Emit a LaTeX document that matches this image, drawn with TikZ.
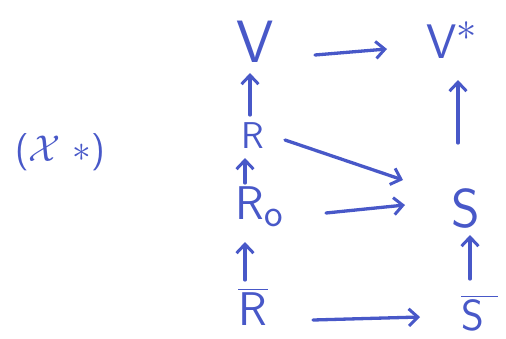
\documentclass[tikz,border=0pt]{standalone}
\usetikzlibrary{arrows.meta}
\definecolor{ink}{RGB}{72,88,200}
\begin{document}
\begin{tikzpicture}[x=1pt,y=-1pt,
  lbl/.style={inner sep=0pt,text=ink,font=\Huge\sffamily,transform shape,anchor=base west},
  arr/.style={draw=ink,line width=3.3pt,line cap=round,-{Straight Barb[length=9pt,width=17pt,line width=3pt]}}]
\useasboundingbox (0,0) rectangle (506,338);
\node[lbl,scale=2.4] (V) at (236,62) {V};
\node[lbl,scale=1.95] (Vs) at (426,58) {V$^{*}$};
\node[lbl,scale=1.5] (R) at (241,148) {R};
\node[lbl,scale=1.9] (R0) at (235,219) {R$_{\mathsf{o}}$};
\node[lbl,scale=1.9] (Rb) at (238,325) {$\overline{\mbox{\sffamily R\hspace{0.5pt}}}$};
\node[lbl,scale=2.2] (S) at (451,227) {S};
\node[lbl,scale=1.75] (Sb) at (461,330) {$\overline{\mbox{\sffamily S\hspace{8pt}}}$};
\node[lbl,scale=1.5,anchor=center] (X) at (60,152) {($\mathcal{X}$ $\ast$)};
\coordinate (a0) at (315,55);  \coordinate (a1) at (387,49);
\coordinate (b0) at (250,115); \coordinate (b1) at (250,73);
\coordinate (c0) at (245,183); \coordinate (c1) at (245,158);
\coordinate (d0) at (245,280); \coordinate (d1) at (245,242);
\coordinate (e0) at (470,279); \coordinate (e1) at (470,235);
\coordinate (f0) at (458,143); \coordinate (f1) at (458,80);
\coordinate (g0) at (285,140); \coordinate (g1) at (403,180);
\coordinate (h0) at (326,213); \coordinate (h1) at (405,205);
\coordinate (i0) at (313,320); \coordinate (i1) at (420,317);
\draw[arr] (a0) -- (a1);
\draw[arr] (b0) -- (b1);
\draw[arr] (c0) -- (c1);
\draw[arr] (d0) -- (d1);
\draw[arr] (e0) -- (e1);
\draw[arr] (f0) -- (f1);
\draw[arr] (g0) -- (g1);
\draw[arr] (h0) -- (h1);
\draw[arr] (i0) -- (i1);
\end{tikzpicture}
\end{document}
